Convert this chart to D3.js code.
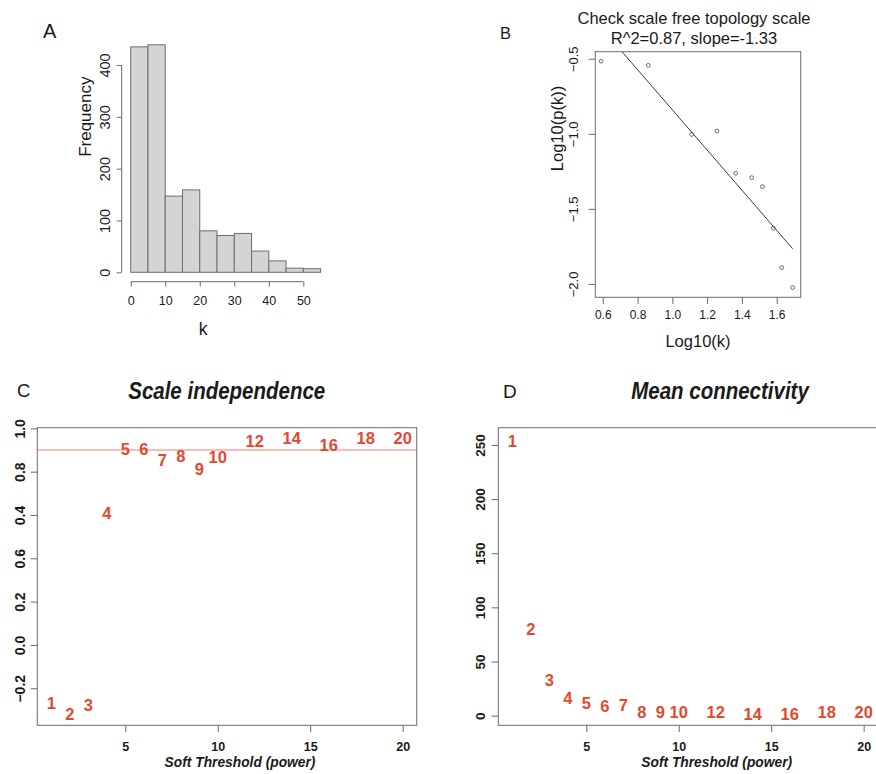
<!DOCTYPE html>
<meta charset="utf-8">
<style>
    body { margin: 0; background: white; }
    svg text { font-family: "Liberation Sans", Arial, sans-serif; fill: #1a1a1a; }
    .frame { fill: none; stroke: #6b6b6b; stroke-width: 1; }
    .num { fill: #e4482f; font-weight: bold; font-size: 16.5px; text-anchor: middle; dominant-baseline: central; }
</style>

<body>
    <svg id="fig" width="876" height="774"></svg>
    <script src="https://d3js.org/d3.v7.min.js"></script>
    <script>
        // A: histogram of connectivity k
        const histBreaks = [0, 5, 10, 15, 20, 25, 30, 35, 40, 45, 50, 55];
        const histCounts = [435, 439, 147, 159, 80, 71, 75, 41, 22, 8, 7];
        const histXTicks = [0, 10, 20, 30, 40, 50];
        const histYTicks = [0, 100, 200, 300, 400];

        // B: scale free topology check
        const logK = [0.59, 0.862, 1.111, 1.257, 1.364, 1.456, 1.518, 1.581, 1.629, 1.692];
        const logPk = [-0.516, -0.544, -1.004, -0.981, -1.263, -1.292, -1.352, -1.629, -1.891, -2.024];
        const bXTicks = [0.6, 0.8, 1.0, 1.2, 1.4, 1.6];
        const bXLabels = ["0.6", "0.8", "1.0", "1.2", "1.4", "1.6"];
        const bYTicks = [-0.5, -1.0, -1.5, -2.0];
        const bYLabels = ["\u22120.5", "\u22121.0", "\u22121.5", "\u22122.0"];

        // C and D: soft threshold powers
        const powers = [1, 2, 3, 4, 5, 6, 7, 8, 9, 10, 12, 14, 16, 18, 20];
        const scaleFit = [-0.269, -0.318, -0.277, 0.611, 0.903, 0.903, 0.854, 0.872, 0.812, 0.869, 0.943, 0.954, 0.922, 0.954, 0.954];
        const meanK = [253.7, 79.8, 33, 16.1, 11.4, 9.0, 9.9, 3.7, 3.7, 3.7, 3.7, 1.3, 1.3, 3.7, 3.7];
        const cutoff = 0.9;
        const powerTicks = [5, 10, 15, 20];
        const cYTicks = [1.0, 0.8, 0.6, 0.4, 0.2, 0.0, -0.2];
        const cYLabels = ["1.0", "0.8", "0.4", "0.6", "0.2", "0.0", "\u22120.2"];
        const dYTicks = [0, 50, 100, 150, 200, 250];

        const svg = d3.select("#fig");
        const grey = "#6b6b6b";

        function xAxis(g, scale, ticks, y0, len, base, size, weight, fmt, line) {
            const a = g.append("g").attr("transform", `translate(0,${y0})`)
                .call(d3.axisBottom(scale).tickValues(ticks).tickSize(len).tickFormat(fmt));
            a.select(".domain").remove();
            a.selectAll(".tick line").attr("stroke", grey);
            a.selectAll(".tick text").attr("y", base).attr("dy", null)
                .style("font-size", size + "px").style("font-weight", weight);
            if (line) a.append("line").attr("x1", scale(ticks[0])).attr("x2", scale(ticks[ticks.length - 1])).attr("stroke", grey);
            return a;
        }

        function yAxis(g, scale, ticks, x0, len, base, size, weight, fmt, line) {
            const a = g.append("g").attr("transform", `translate(${x0},0)`)
                .call(d3.axisLeft(scale).tickValues(ticks).tickSize(len).tickFormat(fmt));
            a.select(".domain").remove();
            a.selectAll(".tick line").attr("stroke", grey);
            a.selectAll(".tick text").attr("transform", "rotate(-90)")
                .attr("x", 0).attr("y", -base).attr("dy", null)
                .style("text-anchor", "middle")
                .style("font-size", size + "px").style("font-weight", weight);
            if (line) a.append("line").attr("y1", scale(ticks[0])).attr("y2", scale(ticks[ticks.length - 1])).attr("stroke", grey);
            return a;
        }

        function label(g, txt, x, y, size, opts = {}) {
            const t = g.append("text").text(txt)
                .attr("transform", `translate(${x},${y})` + (opts.rot ? " rotate(-90)" : "") + (opts.sy ? ` scale(1,${opts.sy})` : ""))
                .style("font-size", size + "px")
                .style("text-anchor", opts.anchor || "middle");
            if (opts.bold) t.style("font-weight", "bold");
            if (opts.italic) t.style("font-style", "italic");
            return t;
        }

        // ---------- A ----------
        const gA = svg.append("g");
        const xA = d3.scaleLinear().domain([0, 55]).range([130.7, 320.6]);
        const yA = d3.scaleLinear().domain([0, 400]).range([272.3, 65]);

        gA.selectAll("rect.bar")
            .data(histCounts)
            .join("rect")
            .attr("class", "bar")
            .attr("x", (d, i) => xA(histBreaks[i]))
            .attr("width", (d, i) => xA(histBreaks[i + 1]) - xA(histBreaks[i]))
            .attr("y", d => yA(d))
            .attr("height", d => yA(0) - yA(d))
            .attr("fill", "#d4d4d4")
            .attr("stroke", "#6e6e6e");

        xAxis(gA, xA, histXTicks, 281.7, 5, 23.3, 12.5, "normal", d3.format("d"), true);
        yAxis(gA, yA, histYTicks, 121.7, 5, 11.7, 14.5, "normal", d3.format("d"), true);
        label(gA, "k", 203, 335, 17.5);
        label(gA, "Frequency", 91, 116.7, 17, { rot: true });
        label(gA, "A", 43, 38.3, 20, { anchor: "start" });

        // ---------- B ----------
        const gB = svg.append("g");
        const xB = d3.scaleLinear().domain([0.557, 1.738]).range([595.3, 800.7]);
        const yB = d3.scaleLinear().domain([-2.089, -0.453]).range([297.3, 51.7]);

        // least squares fit of log10(p(k)) on log10(k)
        const mx = d3.mean(logK), my = d3.mean(logPk);
        const slope = d3.sum(logK, (x, i) => (x - mx) * (logPk[i] - my)) / d3.sum(logK, x => (x - mx) ** 2);
        const icpt = my - slope * mx;
        const xEnds = d3.extent(logK);

        gB.append("clipPath").attr("id", "clipB")
            .append("rect").attr("x", 595.3).attr("y", 51.7).attr("width", 205.4).attr("height", 245.6);
        gB.append("line")
            .attr("clip-path", "url(#clipB)")
            .attr("x1", xB(xEnds[0])).attr("y1", yB(icpt + slope * xEnds[0]))
            .attr("x2", xB(xEnds[1])).attr("y2", yB(icpt + slope * xEnds[1]))
            .attr("stroke", "#3a3a3a").attr("stroke-width", 1);

        gB.selectAll("circle.pt")
            .data(logK)
            .join("circle")
            .attr("class", "pt")
            .attr("cx", d => xB(d))
            .attr("cy", (d, i) => yB(logPk[i]))
            .attr("r", 1.9)
            .attr("fill", "none")
            .attr("stroke", "#4a4a4a")
            .attr("stroke-width", 0.8);

        gB.append("rect").attr("class", "frame")
            .attr("x", 595.3).attr("y", 51.7).attr("width", 205.4).attr("height", 245.6);
        xAxis(gB, xB, bXTicks, 297.3, 6.7, 22, 12, "normal", (d, i) => bXLabels[i], false);
        yAxis(gB, yB, bYTicks, 595.3, 6.7, 17.3, 13, "normal", (d, i) => bYLabels[i], false);
        label(gB, "Log10(k)", 698, 346.7, 16.5);
        label(gB, "Log10(p(k))", 563.3, 128.5, 16.5, { rot: true });
        label(gB, "Check scale free topology scale", 694, 24.3, 16.5);
        label(gB, "R^2=0.87, slope=-1.33", 694, 44, 16.5);
        label(gB, "B", 500, 39, 16.5, { anchor: "start" });

        // ---------- C ----------
        const gC = svg.append("g");
        const xC = d3.scaleLinear().domain([0.24, 20.76]).range([37.3, 416.7]);
        const yC = d3.scaleLinear().domain([-0.371, 1.003]).range([725.3, 427.7]);

        gC.append("line")
            .attr("x1", xC(0.24)).attr("x2", xC(20.76))
            .attr("y1", yC(cutoff)).attr("y2", yC(cutoff))
            .attr("stroke", "#f47a72").attr("stroke-width", 1.1);

        gC.selectAll("text.num")
            .data(powers)
            .join("text")
            .attr("class", "num")
            .attr("x", d => xC(d))
            .attr("y", (d, i) => yC(scaleFit[i]))
            .text(d => d);

        gC.append("rect").attr("class", "frame")
            .attr("x", 37.3).attr("y", 427.7).attr("width", 379.4).attr("height", 297.6);
        xAxis(gC, xC, powerTicks, 725.3, 6.7, 25.4, 12.5, "bold", d3.format("d"), false);
        yAxis(gC, yC, cYTicks, 37.3, 6.7, 12.8, 14, "bold", (d, i) => cYLabels[i], false);
        label(gC, "Soft Threshold (power)", 240, 767, 13.8, { bold: true, italic: true, sy: 1.05 });
        label(gC, "Scale independence", 226.7, 399.3, 20.5, { bold: true, italic: true, sy: 1.2 });
        label(gC, "C", 17, 396.7, 18.5, { anchor: "start" });

        // ---------- D ----------
        const gD = svg.append("g");
        const xD = d3.scaleLinear().domain([0.24, 20.76]).range([498.3, 877.7]);
        const yD = d3.scaleLinear().domain([-8.9, 265.9]).range([725.3, 427.7]);

        gD.selectAll("text.num")
            .data(powers)
            .join("text")
            .attr("class", "num")
            .attr("x", d => xD(d))
            .attr("y", (d, i) => yD(meanK[i]))
            .text(d => d);

        gD.append("rect").attr("class", "frame")
            .attr("x", 498.3).attr("y", 427.7).attr("width", 379.4).attr("height", 297.6);
        xAxis(gD, xD, powerTicks, 725.3, 6.7, 25.4, 12.5, "bold", d3.format("d"), false);
        yAxis(gD, yD, dYTicks, 498.3, 6.7, 13.8, 13.5, "bold", d3.format("d"), false);
        label(gD, "Soft Threshold (power)", 716.7, 767, 13.8, { bold: true, italic: true, sy: 1.05 });
        label(gD, "Mean connectivity", 720, 399.3, 20.5, { bold: true, italic: true, sy: 1.2 });
        label(gD, "D", 503, 398, 19, { anchor: "start" });
    </script>
</body>

</html>
